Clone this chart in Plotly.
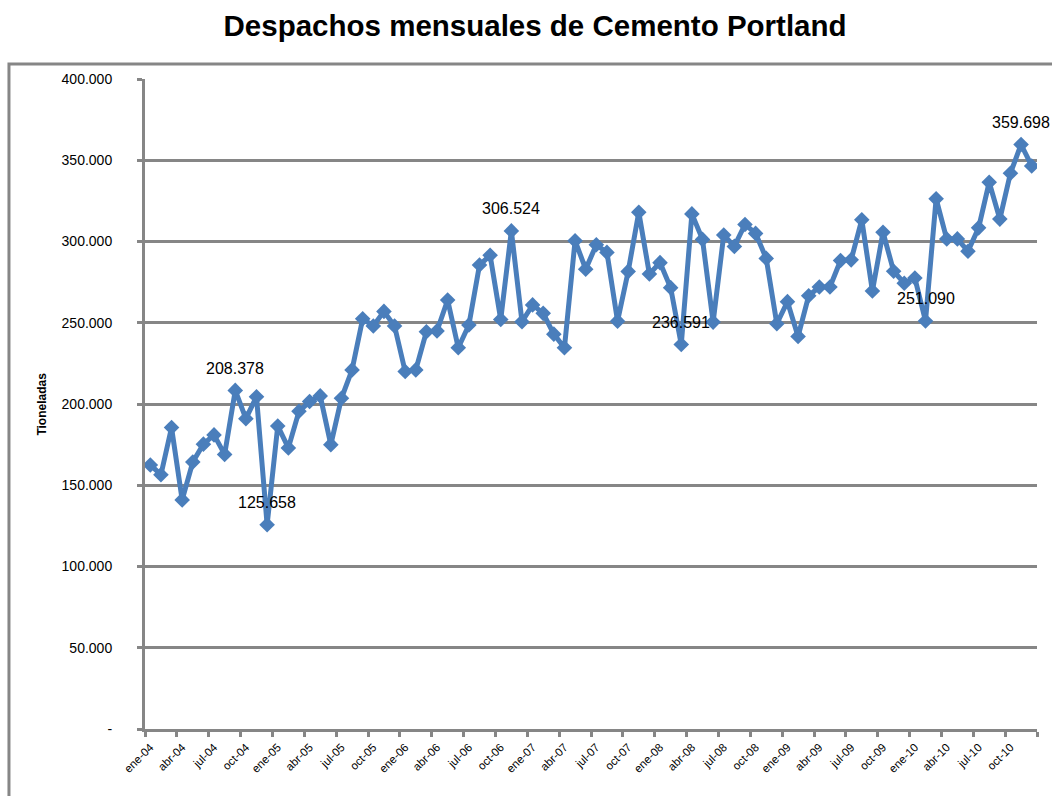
import plotly.graph_objects as go

# ---------------- data ----------------
month_names = ["ene", "feb", "mar", "abr", "may", "jun",
               "jul", "ago", "sep", "oct", "nov", "dic"]
years = ["04", "05", "06", "07", "08", "09", "10"]
months = [f"{m}-{y}" for y in years for m in month_names]

despachos = [
    162500, 156500, 185500, 141000, 164300, 175300, 181000, 169000, 208378, 191000, 204500, 125658,
    186500, 173000, 195500, 201500, 205000, 175000, 203500, 221000, 252500, 248000, 257000, 248000,
    220000, 221000, 244500, 245000, 264000, 234600, 248600, 285500, 291500, 252000, 306524, 250600,
    261000, 255800, 243000, 234600, 300500, 283000, 298000, 293300, 251000, 281600, 318000, 280000,
    287000, 271600, 236591, 317000, 301300, 250400, 304000, 297000, 310500, 305000, 289600, 249400,
    263000, 241600, 266600, 272000, 272000, 288300, 288700, 313400, 269500, 305700, 281700, 274300,
    277500, 251090, 326300, 301500, 301600, 294000, 308400, 336500, 313800, 342000, 359698, 346500,
]

labeled_idx = [8, 11, 34, 50, 73, 82]

y_tickvals = [0, 50000, 100000, 150000, 200000, 250000, 300000, 350000, 400000]
y_ticktext = ["-", "50.000", "100.000", "150.000", "200.000", "250.000",
              "300.000", "350.000", "400.000"]

title_text = "Despachos mensuales de Cemento Portland"
y_title = "Tioneladas"

# ---------------- styles ----------------
BLUE = "#4a7ebb"
GREY = "#868686"
FONT = "Liberation Sans, Arial, sans-serif"

def fmt(v):
    return f"{v:,.0f}".replace(",", ".")

fig = go.Figure()
fig.add_trace(go.Scatter(
    x=months, y=despachos, mode="lines+markers",
    line=dict(color=BLUE, width=5),
    marker=dict(symbol="diamond", size=12, color=BLUE),
    showlegend=False, hoverinfo="x+y",
))

for i in labeled_idx:
    fig.add_annotation(
        x=months[i], y=despachos[i], text=fmt(despachos[i]),
        showarrow=False, yshift=22,
        font=dict(family=FONT, size=16, color="#000000"),
    )

fig.add_annotation(
    xref="paper", yref="paper", x=-0.126, y=0.5,
    text=f"<b>{y_title}</b>", showarrow=False, textangle=-90,
    font=dict(family=FONT, size=12, color="#000000"),
)

# outer chart border
fig.add_shape(
    type="rect", xref="paper", yref="paper",
    x0=-0.1525, x1=1.03, y0=-0.12, y1=1.0230,
    line=dict(color=GREY, width=3), fillcolor="rgba(0,0,0,0)", layer="below",
)

fig.update_layout(
    width=1052, height=796,
    margin=dict(l=145, r=15, t=79, b=67, autoexpand=False),
    paper_bgcolor="white", plot_bgcolor="white",
    title=dict(text=f"<b>{title_text}</b>", x=0.5086, xanchor="center",
               y=0.968, yanchor="middle",
               font=dict(family=FONT, size=29.5, color="#000000")),
    font=dict(family=FONT, color="#000000"),
)

fig.update_xaxes(
    type="category", range=[-0.5, 83.5],
    tickmode="linear", tick0=0, dtick=3, tickson="boundaries",
    ticks="outside", ticklen=5, tickwidth=2.5, tickcolor=GREY,
    ticklabelstandoff=4,
    tickangle=-45, tickfont=dict(family=FONT, size=11.5, color="#000000"),
    showline=True, linecolor=GREY, linewidth=3,
    showgrid=False, zeroline=False,
)

fig.update_yaxes(
    range=[0, 400000], tickmode="array",
    tickvals=y_tickvals, ticktext=y_ticktext,
    ticks="outside", ticklen=5, tickwidth=2.5, tickcolor=GREY,
    ticklabelstandoff=22,
    tickfont=dict(family=FONT, size=14, color="#000000"),
    showline=True, linecolor=GREY, linewidth=3,
    showgrid=True, gridcolor=GREY, gridwidth=2.5,
    zeroline=False,
)

fig.write_html(
    "out.html",
    config={"displayModeBar": False},
    post_script="document.body.style.margin='0';document.body.style.overflow='hidden';",
)
